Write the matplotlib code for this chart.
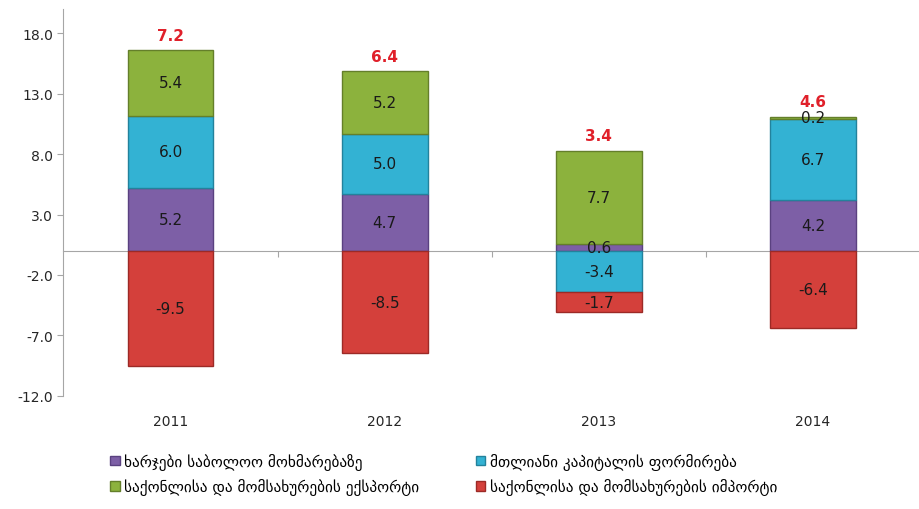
import numpy as np
import matplotlib
matplotlib.use('Agg')
import matplotlib.pyplot as plt
from matplotlib.patches import Patch
from matplotlib.transforms import blended_transform_factory

plt.rcParams['font.family'] = ['DejaVu Sans']

# Data
years = ['2011', '2012', '2013', '2014']
totals = [7.2, 6.4, 3.4, 4.6]
seria_names = ['ხარჯები საბოლოო მოხმარებაზე',
               'მთლიანი კაპიტალის ფორმირება',
               'საქონლისა და მომსახურების ექსპორტი',
               'საქონლისა და მომსახურების იმპორტი']
consumption = [5.2, 4.7, 0.6, 4.2]
capital = [6.0, 5.0, -3.4, 6.7]
exports = [5.4, 5.2, 7.7, 0.2]
imports = [-9.5, -8.5, -1.7, -6.4]

colors = ['#7d5fa6', '#33b2d3', '#8cb23d', '#d4403b']
edges = ['#5a4180', '#23829c', '#647f2a', '#9c2a26']

fig = plt.figure(figsize=(9.2, 5.1), dpi=100)
ax = fig.add_axes([0.069, 0.222, 0.931, 0.758])

x = np.arange(len(years))
width = 0.4
pos_base = np.zeros(len(years))
neg_base = np.zeros(len(years))

for serie, col, ec in zip([consumption, capital, exports, imports], colors, edges):
    vals = np.array(serie)
    bottoms = np.where(vals >= 0, pos_base, neg_base)
    ax.bar(x, vals, width, bottom=bottoms, color=col, edgecolor=ec, linewidth=1.0, zorder=3)
    for xi, v, b in zip(x, vals, bottoms):
        ax.text(xi, b + v / 2, f'{v:.1f}', ha='center', va='center',
                fontsize=11, color='#1a1a1a', zorder=4)
    pos_base = np.where(vals >= 0, pos_base + vals, pos_base)
    neg_base = np.where(vals < 0, neg_base + vals, neg_base)

# jami - witeli
for xi, top, t in zip(x, pos_base, totals):
    ax.text(xi, top + 0.6, f'{t:.1f}', ha='center', va='bottom',
            fontsize=11, fontweight='bold', color='#e0202a', zorder=4)

ax.set_xlim(-0.5, 3.5)
ax.set_ylim(-12, 20)
ax.set_yticks(np.arange(-12, 19, 5))
ax.set_yticklabels([f'{v:.1f}' for v in np.arange(-12, 19, 5)])
ax.tick_params(axis='y', labelsize=10, colors='#a6a6a6', length=4, width=0.8)
for lbl in ax.get_yticklabels():
    lbl.set_color('#262626')

for s in ['top', 'right']:
    ax.spines[s].set_visible(False)
ax.spines['left'].set_color('#a6a6a6')
ax.spines['bottom'].set_position(('data', 0))
ax.spines['bottom'].set_color('#a6a6a6')
ax.set_xticks([0.5, 1.5, 2.5])
ax.set_xticklabels([])
ax.tick_params(axis='x', length=4, color='#a6a6a6', direction='out')

trans = blended_transform_factory(ax.transData, ax.transAxes)
for xi, y in zip(x, years):
    ax.text(xi, -0.065, y, transform=trans, ha='center', va='center',
            fontsize=10, color='#262626')

# legenda: 1 rigi - iisferi, cisferi; 2 rigi - mwvane, witeli
order = [0, 2, 1, 3]
handles = [Patch(facecolor=colors[i], edgecolor=edges[i]) for i in order]
labels = [seria_names[i] for i in order]
fig.legend(handles, labels, loc='lower left', bbox_to_anchor=(0.105, 0.0),
           ncol=2, frameon=False, fontsize=11, handlelength=0.6, handleheight=0.6,
           handletextpad=0.3, columnspacing=3.7, labelspacing=0.55)

fig.savefig('out.png', dpi=100)
